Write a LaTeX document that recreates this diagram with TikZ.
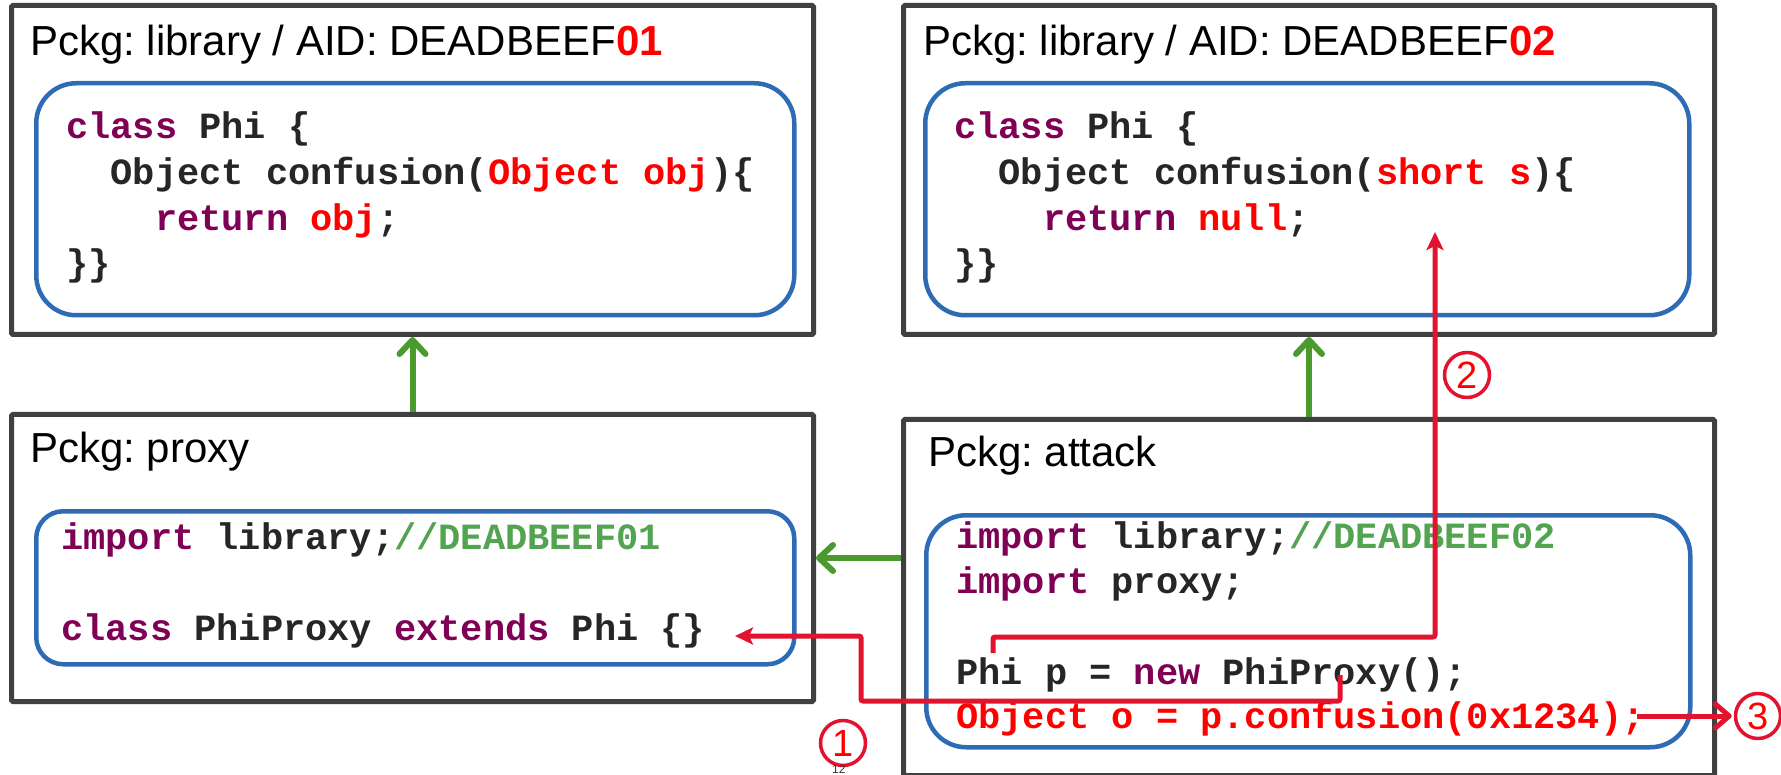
\documentclass[tikz,border=0pt]{standalone}
\usepackage{fontspec}
\setmainfont{Liberation Sans}
\newfontfamily\codefont{Liberation Mono}
\usetikzlibrary{arrows.meta}
\definecolor{boxgray}{HTML}{404040}
\definecolor{boxblue}{HTML}{2E6BB5}
\definecolor{kwpurple}{HTML}{7F0055}
\definecolor{codered}{HTML}{FF0000}
\definecolor{cmtgreen}{HTML}{52A450}
\definecolor{arrgreen}{HTML}{4A9A30}
\definecolor{arrred}{HTML}{E3122F}
\newcommand{\kwd}[1]{\textcolor{kwpurple}{#1}}
\newcommand{\redc}[1]{\textcolor{codered}{#1}}
\newcommand{\cmtc}[1]{\textcolor{cmtgreen}{#1}}
\frenchspacing
\begin{document}
\begin{tikzpicture}[x=1pt,y=-1pt,
  outerbox/.style={draw=boxgray, line width=5pt, rounded corners=1.5pt, rectangle, inner sep=0pt, anchor=north west},
  innerbox/.style={draw=boxblue, line width=4.5pt, rectangle, inner sep=0pt, anchor=north west},
  titletext/.style={anchor=base west, inner sep=0pt, font=\fontsize{42}{48}\selectfont},
  codeline/.style={anchor=base west, inner sep=0pt, text=black!85, font=\codefont\bfseries\fontsize{37}{44}\selectfont},
  greenarrow/.style={draw=arrgreen, line width=6pt, -{Straight Barb[length=14pt,width=26pt,round]}},
  redarrow/.style={draw=arrred, line width=5pt, rounded corners=2pt, -{Stealth[length=18pt,width=17pt,inset=4pt]}},
  redbarb/.style={draw=arrred, line width=5pt, -{Straight Barb[length=14pt,width=24pt,round]}},
  stepcirc/.style={circle, draw=arrred, line width=3.5pt, minimum size=45pt, inner sep=0pt, text=codered, font=\fontsize{38}{40}\selectfont}
]
\useasboundingbox (0,0) rectangle (1781,775);
\fill[white] (0,0) rectangle (1781,775);

% boxes
\node[outerbox, minimum width=802pt, minimum height=329pt] (lib1) at (9,3) {};
\node[innerbox, minimum width=758pt, minimum height=232pt, rounded corners=40pt] (lib1in) at (34,81) {};
\node[outerbox, minimum width=811pt, minimum height=329pt] (lib2) at (901,3) {};
\node[innerbox, minimum width=764pt, minimum height=232pt, rounded corners=40pt] (lib2in) at (923,81) {};
\node[outerbox, minimum width=802pt, minimum height=287pt] (proxy) at (9,412) {};
\node[innerbox, minimum width=758pt, minimum height=153pt, rounded corners=27pt] (proxyin) at (34,509) {};
\node[outerbox, minimum width=811pt, minimum height=356pt] (attack) at (901,417) {};
\node[innerbox, minimum width=764pt, minimum height=232pt, rounded corners=40pt] (attackin) at (924,513) {};

% titles
\node[titletext] (lib1t) at (30,56) {Pckg: library / AID: DEADBEEF\textcolor{codered}{\bfseries 01}};
\node[titletext] (lib2t) at (923,56) {Pckg: library / AID: DEADBEEF\textcolor{codered}{\bfseries 02}};
\node[titletext] (proxyt) at (30,463) {Pckg: proxy};
\node[titletext] (attackt) at (928,467) {Pckg: attack};

% code library 01
\node[codeline] (a1) at (66,139) {\kwd{class} Phi \{};
\node[codeline] (a2) at (110.4,185) {Object confusion(\redc{Object obj})\{};
\node[codeline] (a3) at (154.8,231) {\kwd{return} \redc{obj};};
\node[codeline] (a4) at (66,276) {\}\}};
% code library 02
\node[codeline] (b1) at (954,139) {\kwd{class} Phi \{};
\node[codeline] (b2) at (998.4,185) {Object confusion(\redc{short s})\{};
\node[codeline] (b3) at (1042.8,231) {\kwd{return} \redc{null};};
\node[codeline] (b4) at (954,276) {\}\}};
% code proxy
\node[codeline] (p1) at (61,549) {\kwd{import} library;\cmtc{//DEADBEEF01}};
\node[codeline] (p2) at (61,640) {\kwd{class} PhiProxy \kwd{extends} Phi \{\}};
% code attack
\node[codeline] (c1) at (956,548) {\kwd{import} library;\cmtc{//DEADBEEF02}};
\node[codeline] (c2) at (956,593) {\kwd{import} proxy;};
\node[codeline] (c3) at (956,684) {Phi p = \kwd{new} PhiProxy();};
\node[codeline] (c4) at (956,728) {\redc{Object o = p.confusion(0x1234);}};

% step circles
\node[stepcirc] (n1) at (843,743) {1};
\node[stepcirc] (n2) at (1467,375) {2};
\node[stepcirc] (n3) at (1758,716) {3};

% slide number
\node[anchor=north west, inner sep=0pt, font=\fontsize{12}{14}\selectfont, text=black!80] (pg) at (832,765) {12};

% green arrows
\draw[greenarrow] (proxy.north) -- (lib1.south);
\draw[greenarrow] (attack.north) -- (lib2.south);
\draw[greenarrow] (attack.west |- proxy.east) -- (proxy.east);

% red arrows
\coordinate (s1) at (1340,675);
\coordinate (t1) at (735,636);
\coordinate (s2) at (993,653);
\coordinate (t2) at (1435,232);
\coordinate (s3) at (1637,716);
\draw[redarrow] (s1) |- (861,701) |- (t1);
\draw[redarrow] (s2) |- (1435,637) -- (t2);
\draw[redbarb] (s3) -- ([xshift=-2pt]n3.west);
\end{tikzpicture}
\end{document}
